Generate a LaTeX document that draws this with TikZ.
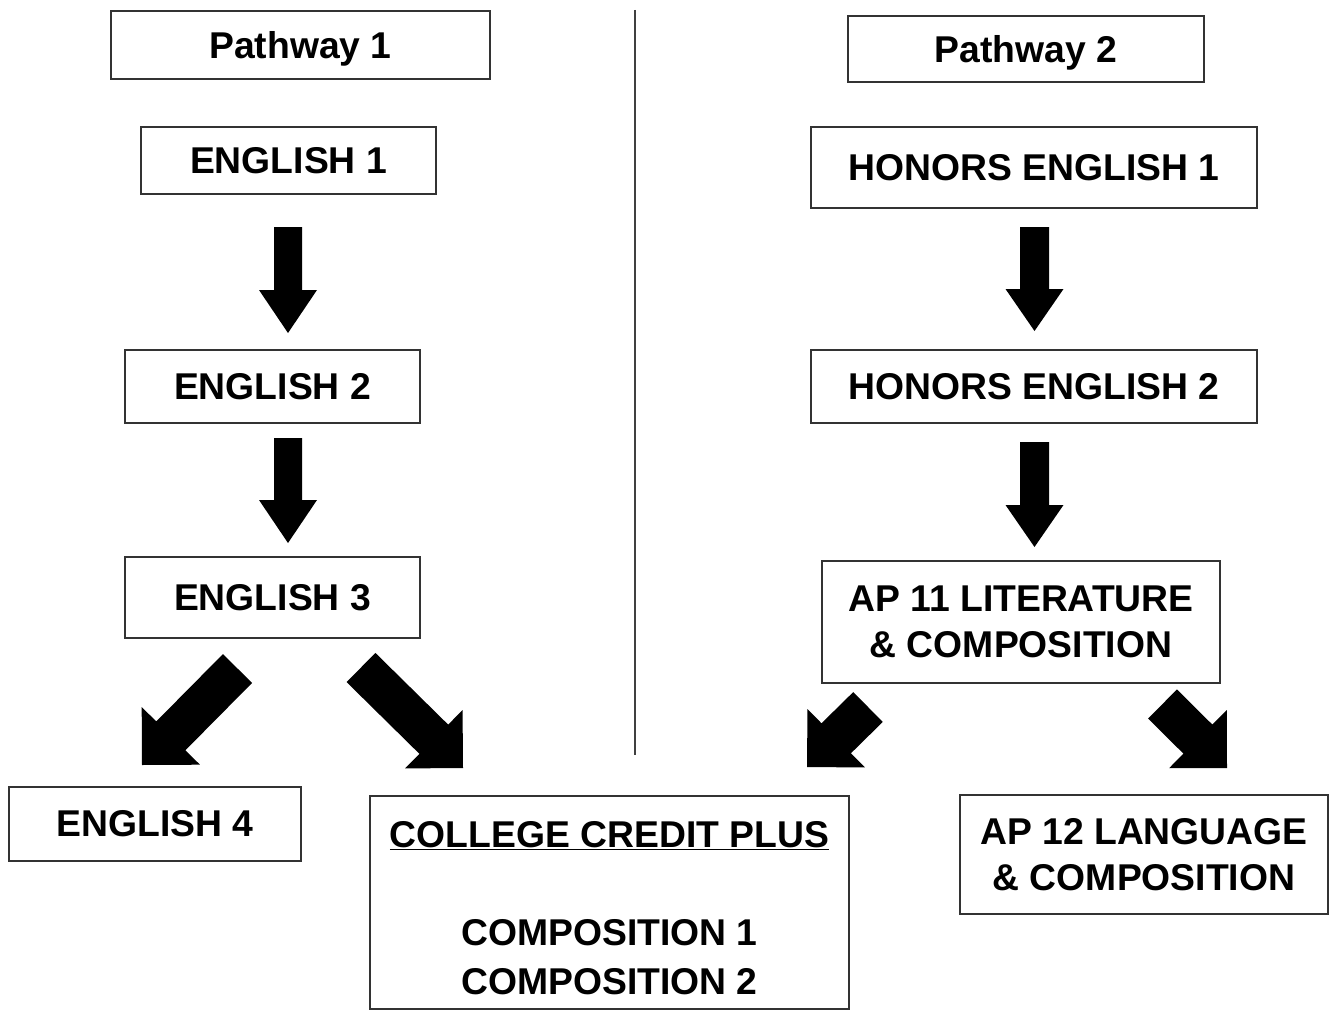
\documentclass[tikz,border=0pt]{standalone}
\usepackage{fontspec}
\setmainfont{Liberation Sans}
\usetikzlibrary{calc}
\newcommand\myblockarrow[5]{% tail, tip, shaft half, head half, head length
  \fill[black] ($(#1)!#3!90:(#2)$) -- ($($(#2)!#5!(#1)$)!#3!90:(#2)$)
    -- ($($(#2)!#5!(#1)$)!#4!90:(#2)$) -- (#2)
    -- ($($(#2)!#5!(#1)$)!#4!-90:(#2)$) -- ($($(#2)!#5!(#1)$)!#3!-90:(#2)$)
    -- ($(#1)!#3!-90:(#2)$) -- cycle;}
\tikzset{
  box/.style={draw=black!80, line width=2pt, inner sep=0pt, align=center,
    font=\fontsize{37.3}{46}\selectfont\bfseries},
}
\begin{document}
\begin{tikzpicture}[x=1pt,y=-1pt]
\useasboundingbox (0,0) rectangle (1330,1011);
\fill[white] (0,0) rectangle (1330,1011);
% divider
\draw[black!75, line width=1.6pt] (635,10) -- (635,755);
% boxes
\node[box, minimum width=379, minimum height=68, text depth=0pt] (p1) at (300.5,45) {Pathway 1};
\node[box, minimum width=356, minimum height=66, text depth=0pt] (p2) at (1026,49) {Pathway 2};
\node[box, minimum width=295, minimum height=67] (e1) at (288.5,160.5) {ENGLISH 1};
\node[box, minimum width=295, minimum height=73] (e2) at (272.5,386.5) {ENGLISH 2};
\node[box, minimum width=295, minimum height=81] (e3) at (272.5,597.5) {ENGLISH 3};
\node[box, minimum width=446, minimum height=81] (h1) at (1034,167.5) {HONORS ENGLISH 1};
\node[box, minimum width=446, minimum height=73] (h2) at (1034,386.5) {HONORS ENGLISH 2};
\node[box, minimum width=398, minimum height=122] (ap11) at (1021,622) {AP 11 LITERATURE\\\& COMPOSITION};
\node[box, minimum width=292, minimum height=74] (e4) at (155,824) {ENGLISH 4};
\node[box, minimum width=479, minimum height=213, font=\fontsize{37.3}{49}\selectfont\bfseries] (ccp) at (609.5,902.5) {\raisebox{0pt}[0pt][0pt]{}\\[-12pt]\underline{COLLEGE CREDIT PLUS}\\[0pt]\mbox{}\\COMPOSITION 1\\COMPOSITION 2};
\node[box, minimum width=368, minimum height=119] (ap12) at (1144,854.5) {AP 12 LANGUAGE\\\& COMPOSITION};
% arrow coordinates
\coordinate (a1t) at (288,227);  \coordinate (a1h) at (288,333);
\coordinate (a2t) at (288,438);  \coordinate (a2h) at (288,543);
\coordinate (a3t) at (1034.5,227); \coordinate (a3h) at (1034.5,331);
\coordinate (a4t) at (1034.5,442); \coordinate (a4h) at (1034.5,547);
\coordinate (d1t) at (237.5,668.5); \coordinate (d1h) at (142,765);
\coordinate (d2t) at (361,667.5); \coordinate (d2h) at (463,768);
\coordinate (d3t) at (868,707);   \coordinate (d3h) at (807,767);
\coordinate (d4t) at (1162.5,704); \coordinate (d4h) at (1227,768);
\myblockarrow{a1t}{a1h}{14pt}{29pt}{43pt}
\myblockarrow{a2t}{a2h}{14pt}{29pt}{43pt}
\myblockarrow{a3t}{a3h}{14.5pt}{29pt}{42pt}
\myblockarrow{a4t}{a4h}{14.5pt}{29pt}{42pt}
\myblockarrow{d1t}{d1h}{20.5pt}{41pt}{41pt}
\myblockarrow{d2t}{d2h}{20.5pt}{41pt}{41pt}
\myblockarrow{d3t}{d3h}{21pt}{41pt}{41pt}
\myblockarrow{d4t}{d4h}{20.5pt}{41pt}{41pt}
\end{tikzpicture}
\end{document}
